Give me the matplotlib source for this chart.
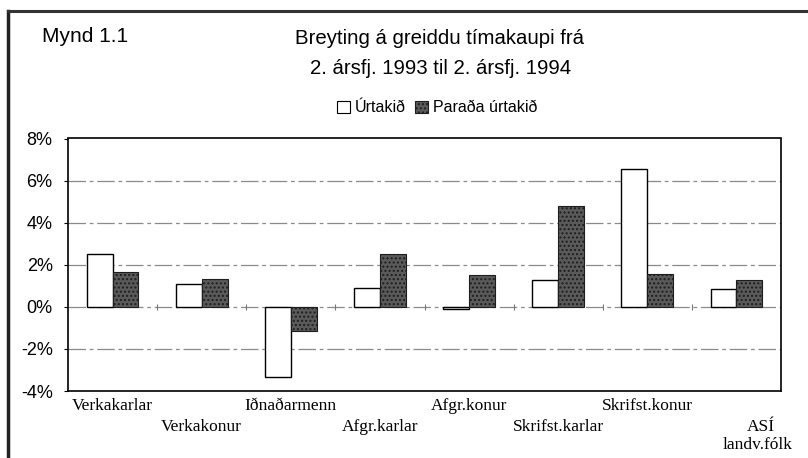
import matplotlib
matplotlib.use("Agg")
import matplotlib.pyplot as plt
import matplotlib.transforms as mtransforms
from matplotlib.lines import Line2D
from matplotlib.patches import Patch
import numpy as np

categories = ["Verkakarlar", "Verkakonur", "Iðnaðarmenn", "Afgr.karlar",
              "Afgr.konur", "Skrifst.karlar", "Skrifst.konur", "ASÍ\nlandv.fólk"]
urtakid = [2.5, 1.08, -3.33, 0.88, -0.1, 1.28, 6.55, 0.83]
parada = [1.67, 1.3, -1.14, 2.5, 1.5, 4.8, 1.55, 1.26]
yticks = [-4, -2, 0, 2, 4, 6, 8]

W, H = 808, 458
DARK = "#5a5a5a"
fig = plt.figure(figsize=(W / 100, H / 100), dpi=100)
ax = fig.add_axes([68 / W, 1 - 391 / H, 713 / W, 252.5 / H])

x = np.arange(len(categories))
bw = 0.29
ax.bar(x - bw / 2, urtakid, bw, facecolor="white", edgecolor="black", linewidth=1.0, zorder=3)
ax.bar(x + bw / 2, parada, bw, facecolor=DARK, edgecolor="#1e1e1e", hatch="....",
       linewidth=0.8, zorder=3)

ax.set_xlim(-0.5, len(categories) - 0.5)
ax.set_ylim(-4, 8)
ax.set_yticks(yticks)
ax.set_yticklabels([f"{v}%" for v in yticks], family="Liberation Sans", fontsize=13)
ax.tick_params(axis="y", direction="out", length=3, pad=8, width=0.8)
ax.set_xticks([])
for v in yticks[1:-1]:
    ax.axhline(v, color="#8a8a8a", linewidth=0.9, linestyle=(0, (14, 3, 3, 3)), zorder=1)
# category axis ticks crossing the zero line
ax.vlines(x[1:] - 0.5, -0.15, 0.15, color="#777777", linewidth=0.8, zorder=2)
for s in ax.spines.values():
    s.set_linewidth(1.2)

# staggered category labels
trans = mtransforms.blended_transform_factory(ax.transData, fig.transFigure)
for i, lab in enumerate(categories):
    if "\n" in lab:
        top, bot = lab.split("\n")
        ax.text(i + 0.27, 1 - 427 / H, top, transform=trans, ha="center", va="center",
                family="Liberation Serif", fontsize=12.5)
        ax.text(i + 0.24, 1 - 445 / H, bot, transform=trans, ha="center", va="center",
                family="Liberation Serif", fontsize=12.5)
    else:
        yy = 406 if i % 2 == 0 else 427
        ax.text(i, 1 - yy / H, lab, transform=trans, ha="center", va="center",
                family="Liberation Serif", fontsize=12.5)

fig.text(42 / W, 1 - 37 / H, "Mynd 1.1", ha="left", va="center",
         family="Liberation Sans", fontsize=15)
fig.text(439 / W, 1 - 39 / H, "Breyting á greiddu tímakaupi frá", ha="center", va="center",
         family="Liberation Sans", fontsize=14.7)
fig.text(441 / W, 1 - 68 / H, "2. ársfj. 1993 til 2. ársfj. 1994", ha="center", va="center",
         family="Liberation Sans", fontsize=14.7)

handles = [Patch(facecolor="white", edgecolor="black", linewidth=0.8),
           Patch(facecolor=DARK, edgecolor="#1e1e1e", hatch="....", linewidth=0.8)]
fig.legend(handles, ["Úrtakið", "Paraða úrtakið"], loc="center",
           bbox_to_anchor=(437 / W, 1 - 108 / H), ncol=2, frameon=False,
           prop={"family": "Liberation Sans", "size": 11.5},
           handlelength=0.8, handleheight=0.8, handletextpad=0.3, columnspacing=0.6)

# page frame
fig.add_artist(Line2D([8 / W, 8 / W], [0, 1 - 11 / H], color="#222222", linewidth=2.5))
fig.add_artist(Line2D([8 / W, 1], [1 - 11 / H, 1 - 11 / H], color="#333333", linewidth=2.2))

fig.savefig("out.png", dpi=100)
